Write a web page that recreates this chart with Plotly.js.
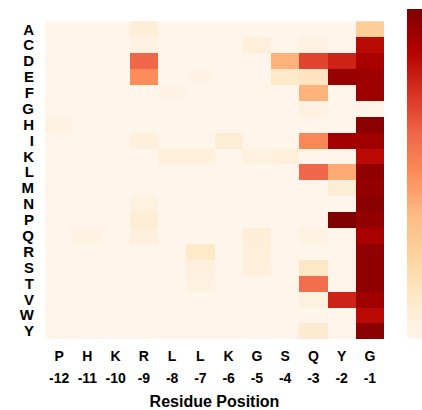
<!DOCTYPE html>
<html><head><meta charset="utf-8">
<script src="https://cdn.plot.ly/plotly-3.0.1.min.js"></script>
<style>body{margin:0;background:#fff}#c{width:422px;height:410px}</style>
</head><body><div id="c"></div>
<script>
const positions = [-12,-11,-10,-9,-8,-7,-6,-5,-4,-3,-2,-1];
const residues = ['P','H','K','R','L','L','K','G','S','Q','Y','G'];
const aminoAcids = ['A','C','D','E','F','G','H','I','K','L','M','N','P','Q','R','S','T','V','W','Y'];
// enrichment values, rows = aminoAcids, columns = positions
const A = [0,0,0,0.07,0,0,0,0,0,0,0,0.28];
const C = [0,0,0,0.03,0,0,0,0.06,0,0.03,0,0.85];
const D = [0,0,0,0.62,0,0,0,0,0.40,0.70,0.78,0.90];
const E = [0,0,0,0.50,0,0.02,0,0,0.12,0.15,0.94,0.93];
const F = [0,0,0,0,0.02,0,0,0,0,0.40,0,0.93];
const G = [0,0,0,0,0,0,0,0,0,0.04,0,0.01];
const H = [0.03,0,0,0,0,0,0,0,0,0,0,0.97];
const I = [0,0,0,0.05,0,0,0.08,0,0,0.52,0.91,0.92];
const K = [0,0,0,0,0.05,0.05,0,0.04,0.06,0,0,0.85];
const L = [0,0,0,0,0,0,0,0,0,0.62,0.42,0.96];
const M = [0,0,0,0,0,0,0,0,0,0,0.08,0.95];
const N = [0,0,0,0.04,0,0,0,0,0,0,0,0.97];
const P = [0,0,0,0.08,0,0,0,0,0,0,1.00,0.95];
const Q = [0,0.03,0,0.05,0,0,0,0.07,0,0.03,0,0.90];
const R = [0,0,0,0,0,0.12,0,0.06,0,0,0,0.96];
const S = [0,0,0,0,0,0.05,0,0.05,0,0.13,0,0.96];
const T = [0,0,0,0,0,0.04,0,0,0,0.60,0,0.96];
const V = [0,0,0,0,0,0,0,0,0,0.04,0.78,0.92];
const W = [0,0,0,0,0,0,0,0,0,0,0,0.85];
const Y = [0,0,0,0,0,0,0,0,0,0.10,0,0.97];
const z = [A,C,D,E,F,G,H,I,K,L,M,N,P,Q,R,S,T,V,W,Y];

const orrd = [[0,'#fff5eb'],[0.125,'#fee8c8'],[0.25,'#fdd49e'],[0.375,'#fdbb84'],[0.5,'#fc8d59'],[0.625,'#ef6548'],[0.75,'#d7301f'],[0.875,'#b30000'],[1,'#7f0000']];

function bf(size){ return {family:'Liberation Sans, Arial, sans-serif', color:'#000', size:size, weight:'bold'}; }
const data = [{
  type:'heatmap', x:positions, y:aminoAcids, z:z, zmin:0, zmax:1,
  colorscale:orrd,
  colorbar:{x:1.068, xanchor:'left', xpad:0, ypad:0, thickness:15, len:1, y:0.5, yanchor:'middle',
    outlinewidth:0, showticklabels:false, ticks:''},
  hoverinfo:'none'
},{
  type:'scatter', x:positions, y:positions.map(()=>aminoAcids[0]), xaxis:'x2', yaxis:'y',
  mode:'markers', marker:{opacity:0}, hoverinfo:'none', showlegend:false
}];
const layout = {
  width:422, height:410,
  margin:{l:44.5, r:37.5, t:9, b:71, autoexpand:false},
  paper_bgcolor:'#fff', plot_bgcolor:'#fff',
  showlegend:false,
  xaxis:{tickmode:'array', tickvals:positions, ticktext:residues,
    range:[-12.5,-0.5], showgrid:false, zeroline:false, ticks:'', tickfont:bf(14),
    ticklabelstandoff:7},
  xaxis2:{overlaying:'x', side:'bottom', anchor:'y', tickmode:'array', tickvals:positions,
    ticktext:positions.map(String), range:[-12.5,-0.5], showgrid:false, zeroline:false,
    ticks:'', tickfont:bf(14), ticklabelstandoff:29,
    title:{text:'Residue Position', font:bf(16), standoff:10}},
  yaxis:{autorange:'reversed', type:'category', tickmode:'array', tickvals:aminoAcids, ticktext:aminoAcids,
    showgrid:false, zeroline:false, ticks:'', tickfont:bf(15), ticklabelstandoff:10}
};
Plotly.newPlot('c', data, layout, {displayModeBar:false, staticPlot:true});
</script></body></html>
